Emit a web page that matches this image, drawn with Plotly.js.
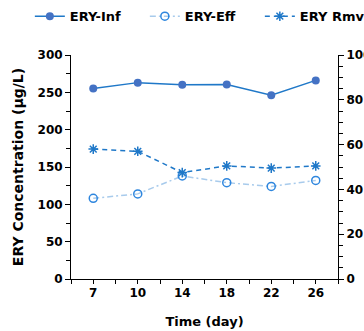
<!DOCTYPE html>
<html>
<head>
<meta charset="utf-8">
<script src="https://cdn.plot.ly/plotly-3.0.1.min.js"></script>
<style>
html,body{margin:0;padding:0;overflow:hidden;background:#fff;width:364px;height:331px;}
#chart{width:480px;height:331px;}
</style>
</head>
<body>
<div id="chart"></div>
<script>
var days = ['7', '10', '14', '18', '22', '26'];
var eryInf = [255, 263, 260, 260.5, 246, 266];
var eryEff = [108, 114, 138, 129, 124, 132];
var eryRmv = [58, 57, 47.5, 50.5, 49.5, 50.5];
var names = ['ERY-Inf', 'ERY-Eff', 'ERY Rmv'];

var F = 'DejaVu Sans, Arial, sans-serif';

var traces = [
  {
    x: days, y: eryInf, name: names[0], type: 'scatter', mode: 'lines+markers',
    line: {color: '#1F78C8', width: 1.5},
    marker: {symbol: 'circle', size: 8, color: '#4472C4'}
  },
  {
    x: days, y: eryEff, name: names[1], type: 'scatter', mode: 'lines+markers',
    line: {color: '#A8CBEC', width: 1.5, dash: '6px,3px,2px,3px'},
    marker: {symbol: 'circle-open', size: 8, color: '#2E86DE', line: {width: 1.5, color: '#2E86DE'}}
  },
  {
    x: days, y: eryRmv, name: names[2], type: 'scatter', mode: 'lines+markers',
    xaxis: 'x2', yaxis: 'y2',
    line: {color: '#1F78C8', width: 1.5, dash: '5px,4px'},
    marker: {symbol: 'asterisk-open', size: 8, color: '#1F78C8', line: {width: 1.5, color: '#1F78C8'}}
  }
];

var tickFont = {family: F, size: 12, color: '#000', weight: 'bold'};

var layout = {
  width: 480, height: 331,
  margin: {l: 71, r: 142, t: 55, b: 52, autoexpand: false},
  paper_bgcolor: '#fff', plot_bgcolor: '#fff',
  font: {family: F, size: 12, color: '#000', weight: 'bold'},
  showlegend: true,
  legend: {
    orientation: 'h', x: 1.138, xanchor: 'right', y: 1.24, yanchor: 'top',
    font: {family: F, size: 13, color: '#000', weight: 'bold'},
    itemwidth: 30, entrywidth: 70, entrywidthmode: 'pixels',
    bgcolor: 'rgba(0,0,0,0)', traceorder: 'normal'
  },
  xaxis: {
    type: 'category', categoryorder: 'array', categoryarray: days,
    range: [-0.5, 5.5], tickson: 'boundaries',
    ticks: 'outside', ticklen: 4, tickcolor: '#000', tickwidth: 1,
    ticklabelstandoff: 3,
    showline: true, linecolor: '#000', linewidth: 1,
    showgrid: false, zeroline: false, tickfont: tickFont,
    title: {text: 'Time (day)', font: {family: F, size: 13, color: '#000', weight: 'bold'}, standoff: 17}
  },
  xaxis2: {
    type: 'category', categoryorder: 'array', categoryarray: days,
    overlaying: 'x', anchor: 'y', side: 'bottom',
    range: [-0.5, 5.5], ticks: 'outside', ticklen: 4, tickcolor: '#000',
    showticklabels: false, showline: false, showgrid: false, zeroline: false
  },
  yaxis: {
    range: [0, 300], dtick: 50, tick0: 0,
    ticks: 'outside', ticklen: 5, tickcolor: '#000',
    minor: {dtick: 25, ticks: 'outside', ticklen: 4, tickcolor: '#000', showgrid: false},
    showline: true, linecolor: '#000', linewidth: 1,
    showgrid: false, zeroline: false, tickfont: tickFont,
    title: {text: 'ERY Concentration (µg/L)', font: {family: F, size: 14, color: '#000', weight: 'bold'}, standoff: 10}
  },
  yaxis2: {
    overlaying: 'y', side: 'right', anchor: 'x2',
    range: [0, 100], dtick: 20, tick0: 0,
    ticks: 'outside', ticklen: 5, tickcolor: '#000',
    minor: {dtick: 5, ticks: 'outside', ticklen: 4, tickcolor: '#000', showgrid: false},
    showline: true, linecolor: '#000', linewidth: 1,
    showgrid: false, zeroline: false, tickfont: tickFont
  }
};

Plotly.newPlot('chart', traces, layout, {displayModeBar: false, staticPlot: true});
</script>
</body>
</html>
